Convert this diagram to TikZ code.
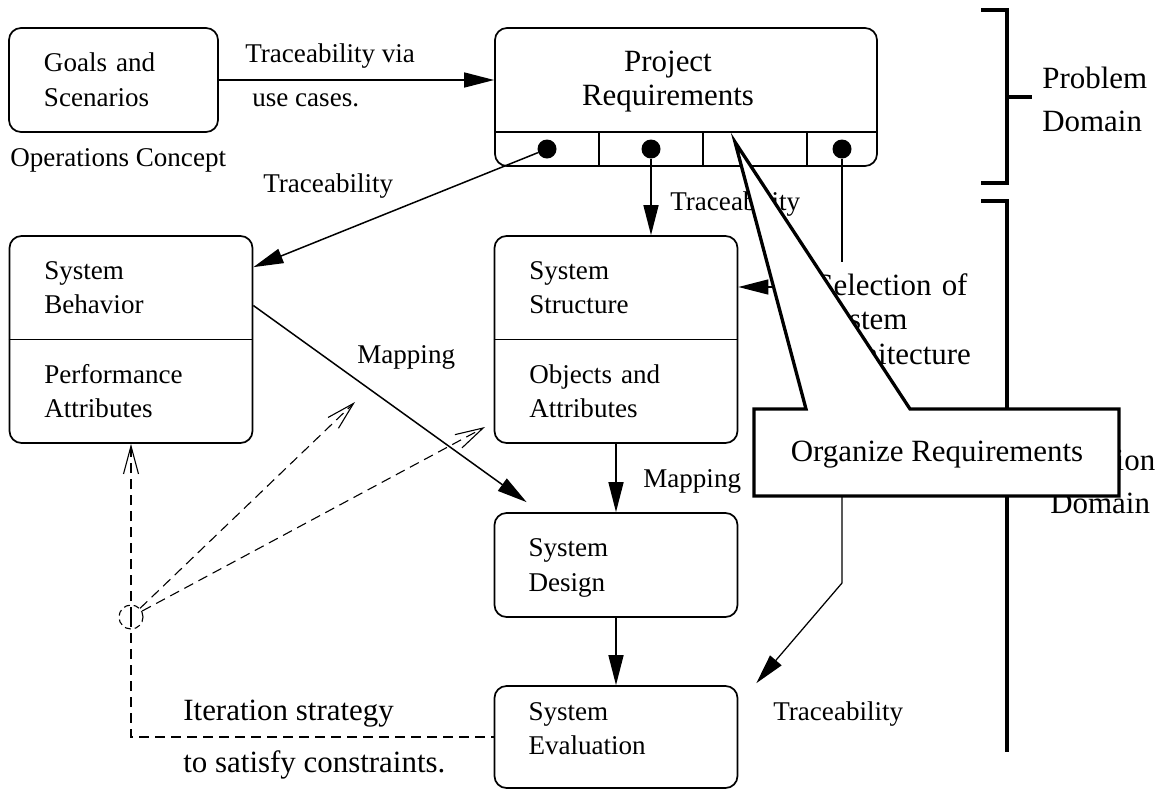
\documentclass[tikz,border=0pt]{standalone}
\usepackage{fontspec}
\setmainfont{Liberation Serif}
\usetikzlibrary{arrows.meta,calc}
\newcommand{\lblfont}{\fontsize{15.4}{19.9}\selectfont}
\newcommand{\ttlfont}{\fontsize{17.6}{19.9}\selectfont}
\newcommand{\domfont}{\fontsize{17.6}{25}\selectfont}

\begin{document}
\begin{tikzpicture}[x=0.2mm, y=-0.2mm,
    block/.style={draw, line width=0.34mm, rounded corners=2.4mm, minimum width=48.6mm, minimum height=20.8mm,
        text width=35mm, align=left, font=\lblfont, text height=3.7mm, text depth=7mm},
    lbl/.style={inner sep=0, anchor=base west, font=\lblfont},
    ttl/.style={inner sep=0, font=\ttlfont},
    port/.style={circle, fill, inner sep=0, minimum size=3.8mm},
    flowarrow/.style={line width=0.3mm, -{Triangle[length=6mm,width=3mm]}},
    trace/.style={line width=0.25mm},
    iterline/.style={line width=0.22mm, dash pattern=on 2mm off 1.2mm},
    iterarrow/.style={iterline, -{Straight Barb[length=5.6mm,width=3mm]}},
    bracket/.style={line width=0.8mm},
    notebox/.style={draw, fill=white, line width=0.66mm}]
    \useasboundingbox (0,0) rectangle (1159,790);

    \draw[bracket] (981,10) -- (1007,10) -- (1007,183) -- (981,183);
    \draw[bracket] (1007,97) -- (1032,97);
    \draw[bracket] (981,201) -- (1007,201) -- (1007,752);
    \draw[bracket] (1007,476) -- (1032,476);
    \node[ttl, anchor=base west, text width=25mm, align=left, font=\domfont] (problem) at (1042,88) {Problem\\Domain};
    \node[ttl, anchor=base west, text width=25mm, align=left, font=\domfont] (solution) at (1050,470) {Solution\\Domain};

    \node[block, minimum width=41.8mm, text width=27.8mm] (goals) at (113.5,80) {Goals and\\Scenarios};
    \node[lbl] (opcon) at (10,166) {Operations Concept};

    \node[block, minimum width=76.4mm, minimum height=27.6mm] (project) at (686,97) {};
    \node[ttl, anchor=base, text width=40mm, align=center] (projtitle) at (668,71) {Project\\Requirements};
    \draw[line width=0.34mm] (project.west |- 0,132) -- (project.east |- 0,132);
    \foreach \x in {599,703,807} {\draw[line width=0.34mm] (\x,132) -- (\x,166);}
    \node[port] (r1) at (547,149) {};
    \node[port] (r2) at (651,149) {};
    \node[port] (r4) at (842,149) {};

    \node[block, minimum height=41.4mm] (behavior) at (131,339.5) {};
    \draw[line width=0.34mm] (behavior.west) -- (behavior.east);
    \node[lbl, text width=35mm, align=left] (behtop) at (44,279) {System\\Behavior};
    \node[lbl, text width=35mm, align=left] (behbot) at (44,383) {Performance\\Attributes};

    \node[block, minimum height=41.4mm] (structure) at (616,339.5) {};
    \draw[line width=0.34mm] (structure.west) -- (structure.east);
    \node[lbl, text width=35mm, align=left] (strtop) at (529,279) {System\\Structure};
    \node[lbl, text width=35mm, align=left] (strbot) at (529,383) {Objects and\\Attributes};

    \node[block] (design) at (616,565) {System\\Design};
    \node[block, minimum height=20.4mm, text depth=10.5mm] (evaluation) at (616,737) {System\\Evaluation};

    \draw[flowarrow] (goals.east) -- (goals.east -| project.west);
    \node[lbl] (via1) at (245,62) {Traceability via};
    \node[lbl] (via2) at (252,106) {use cases.};
    \draw[flowarrow] (r1) -- ($(behavior.north east)+(0,32)$);
    \node[lbl] (tr1) at (263,192) {Traceability};
    \draw[flowarrow] (r2) -- (r2 |- structure.north);
    \node[lbl] (tr2) at (670,210) {Traceability};
    \draw[flowarrow] ($(behavior.east)+(0,-34)$) -- ($(design.north west)+(33,-10)$);
    \node[lbl] (map1) at (357,363) {Mapping};
    \draw[flowarrow] (structure.south) -- (design.north);
    \node[lbl] (map2) at (643,487) {Mapping};
    \draw[flowarrow] (design) -- (evaluation);

    \node[ttl, anchor=base west, text width=35mm, align=left] (select) at (816,295) {Selection of\\System\\Architecture};
    \coordinate (selTop) at (842,262);
    \coordinate (selBot) at (842,372);
    \coordinate (bend) at (842,583);
    \draw[trace] (r4) -- (selTop);
    \draw[trace, -{Triangle[length=6mm,width=3mm]}] (selBot) -- (bend) -- ($(evaluation.north east)+(18,-2)$);
    \draw[flowarrow] (select.west |- 0,287) -- (structure.east |- 0,287);
    \node[lbl] (tr3) at (773,720) {Traceability};

    \node[circle, draw, line width=0.22mm, dash pattern=on 1.2mm off 0.8mm, minimum size=4.8mm, inner sep=0] (hub) at (131,617) {};
    \coordinate (perfEnd) at (355,402);
    \coordinate (attrEnd) at (485,427);
    \draw[iterarrow] (hub.center) -- (behavior.south);
    \draw[iterarrow] (hub) -- (perfEnd);
    \draw[iterarrow] (hub) -- (attrEnd);
    \draw[iterline] (hub.center) |- (evaluation.west);
    \node[ttl, anchor=base west] (iter1) at (183,720) {Iteration strategy};
    \node[ttl, anchor=base west] (iter2) at (183,772) {to satisfy constraints.};

    \draw[notebox] (754,409) -- (806,409) -- (735,142) -- (910,409) -- (1119,409) -- (1119,496) -- (754,496) -- cycle;
    \node[ttl, anchor=base] (organize) at (937,461) {Organize Requirements};
\end{tikzpicture}
\end{document}
